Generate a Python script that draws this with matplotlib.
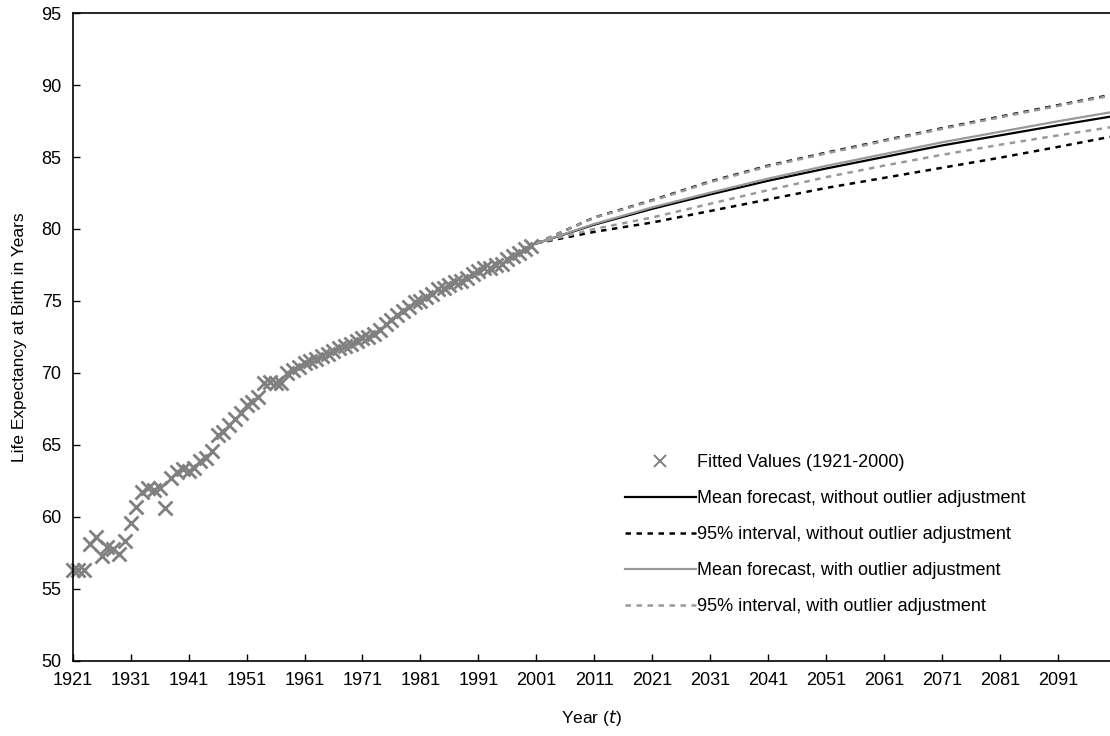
import matplotlib.pyplot as plt
import numpy as np

plt.rcParams["font.family"] = ["Liberation Sans", "DejaVu Sans"]

# fitted life expectancy, 1921-2000
fit_years = np.arange(1921, 2001)
fitted = [56.3, 56.3, 56.3, 58.1, 58.6, 57.3, 57.9, 57.8, 57.4, 58.3,
          59.6, 60.7, 61.7, 62.0, 61.9, 62.0, 60.6, 62.7, 63.1, 63.3,
          63.2, 63.4, 63.9, 64.1, 64.6, 65.7, 65.9, 66.4, 66.8, 67.2,
          67.8, 68.0, 68.3, 69.3, 69.4, 69.3, 69.3, 70.0, 70.2, 70.4,
          70.7, 70.8, 71.0, 71.2, 71.3, 71.5, 71.7, 71.9, 72.0, 72.2,
          72.4, 72.5, 72.7, 73.0, 73.4, 73.7, 74.0, 74.3, 74.6, 74.9,
          75.0, 75.3, 75.5, 75.8, 75.9, 76.1, 76.3, 76.4, 76.6, 76.9,
          77.1, 77.3, 77.3, 77.5, 77.6, 77.9, 78.1, 78.3, 78.6, 78.8]

# forecasts 2001-2100
fc_years = [2001, 2011, 2021, 2031, 2041, 2051, 2061, 2071, 2081, 2091, 2100]
mean_raw = [79.0, 80.3, 81.4, 82.4, 83.35, 84.2, 85.0, 85.8, 86.5, 87.2, 87.8]
hi_raw = [79.0, 80.8, 82.0, 83.3, 84.4, 85.3, 86.15, 87.0, 87.8, 88.6, 89.3]
lo_raw = [79.0, 79.8, 80.45, 81.25, 82.05, 82.85, 83.55, 84.25, 84.95, 85.7, 86.4]
mean_adj = [79.0, 80.35, 81.5, 82.52, 83.5, 84.38, 85.2, 86.02, 86.75, 87.48, 88.1]
hi_adj = [79.0, 80.78, 81.96, 83.25, 84.35, 85.25, 86.1, 86.95, 87.75, 88.55, 89.25]
lo_adj = [79.0, 80.0, 80.8, 81.75, 82.7, 83.6, 84.4, 85.15, 85.85, 86.5, 87.06]

fig = plt.figure(figsize=(11.1, 7.36), dpi=100)
ax = fig.add_axes([0.0655, 0.102, 0.9345, 0.8803])

ax.plot(fit_years, fitted, linestyle="none", marker="x", color="#808080",
        markersize=10, markeredgewidth=2, clip_on=False,
        label="Fitted Values (1921-2000)")
ax.plot(fc_years, mean_raw, color="black", lw=1.6,
        label="Mean forecast, without outlier adjustment")
ax.plot(fc_years, hi_raw, color="black", lw=1.8, dashes=(2.2, 2.2),
        label="95% interval, without outlier adjustment")
ax.plot(fc_years, lo_raw, color="black", lw=1.8, dashes=(2.2, 2.2))
ax.plot(fc_years, mean_adj, color="#999999", lw=1.6,
        label="Mean forecast, with outlier adjustment")
ax.plot(fc_years, hi_adj, color="#999999", lw=1.8, dashes=(2.2, 2.2),
        label="95% interval, with outlier adjustment")
ax.plot(fc_years, lo_adj, color="#999999", lw=1.8, dashes=(2.2, 2.2))

ax.set_xlim(1921, 2100)
ax.set_ylim(50, 95)
ax.set_xticks(np.arange(1921, 2092, 10))
ax.set_yticks(np.arange(50, 96, 5))
ax.tick_params(direction="in", length=5, width=1, labelsize=13, pad=8)
for s in ["left", "bottom", "top"]:
    ax.spines[s].set_linewidth(1.2)
ax.spines["right"].set_visible(False)

ax.set_xlabel("Year ($\\it{t}$)", fontsize=12.5, labelpad=14)
ax.set_ylabel("Life Expectancy at Birth in Years", fontsize=12.5, labelpad=10)

leg = ax.legend(loc="lower left", bbox_to_anchor=(0.517, 0.046), frameon=False,
                fontsize=13, handlelength=3.9, handletextpad=0.1,
                labelspacing=1.05)
leg.legend_handles[0].set_markersize(9)
leg.legend_handles[0].set_markeredgewidth(1.4)

fig.savefig("out.png", dpi=100)
